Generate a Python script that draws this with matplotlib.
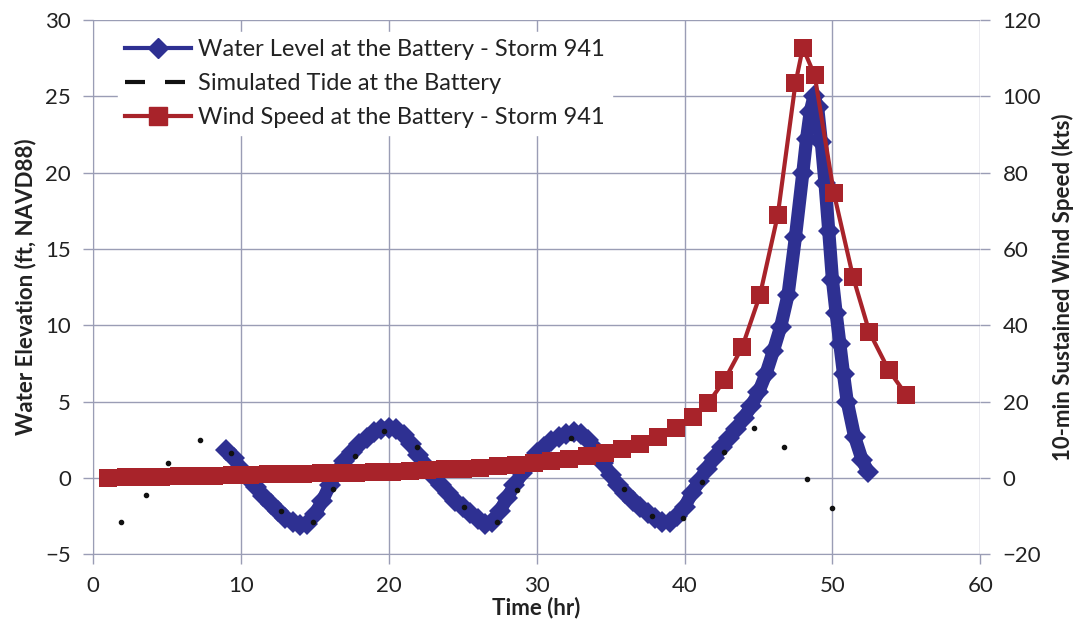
import matplotlib
matplotlib.use('Agg')
import matplotlib.pyplot as plt
from matplotlib.lines import Line2D


# DATA
# ================================================================================

# Water level at the Battery (ft, NAVD88)
water_time = [9.0, 9.5, 10.0, 10.5, 11.0, 11.5, 12.0, 12.5, 13.0, 13.5, 14.0, 14.5, 15.0, 15.5,
              16.0, 16.5, 17.0, 17.5, 18.0, 18.5, 19.0, 19.5, 20.0, 20.5, 21.0, 21.5, 22.0, 22.5,
              23.0, 23.5, 24.0, 24.5, 25.0, 25.5, 26.0, 26.5, 27.0, 27.5, 28.0, 28.5, 29.0, 29.5,
              30.0, 30.5, 31.0, 31.5, 32.0, 32.5, 33.0, 33.5, 34.0, 34.5, 35.0, 35.5, 36.0, 36.5,
              37.0, 37.5, 38.0, 38.5, 39.0, 39.5, 40.0, 40.5, 41.0, 41.5, 42.0, 42.5, 43.0, 43.5,
              44.0, 44.5, 45.0, 45.5, 46.0, 46.5, 47.0, 47.5, 48.0, 48.25, 48.5, 48.75, 49.0, 49.25,
              49.5, 49.75, 50.0, 50.25, 50.5, 50.75, 51.0, 51.5, 52.0, 52.4]
water_level = [1.8, 1.3, 0.6, 0.0, -0.6, -1.2, -1.7, -2.2, -2.6, -2.9, -3.1, -3.0, -2.4, -1.5,
               -0.5, 0.4, 1.1, 1.7, 2.2, 2.6, 3.0, 3.2, 3.3, 3.2, 2.8, 2.2, 1.5, 0.8,
               0.1, -0.5, -1.0, -1.5, -1.9, -2.3, -2.7, -3.0, -2.9, -2.2, -1.3, -0.5, 0.3, 1.0,
               1.6, 2.0, 2.4, 2.7, 2.9, 3.0, 2.9, 2.5, 1.8, 1.0, 0.2, -0.5, -1.0, -1.5,
               -1.9, -2.3, -2.6, -2.9, -2.9, -2.5, -1.9, -1.0, -0.2, 0.6, 1.3, 2.0, 2.6, 3.2,
               3.9, 4.7, 5.6, 6.8, 8.3, 9.9, 12.0, 15.8, 20.0, 22.2, 24.0, 25.0, 24.3, 22.0,
               19.3, 16.2, 13.0, 10.8, 8.8, 6.8, 5.0, 2.7, 1.2, 0.4]

# Simulated tide at the Battery (ft, NAVD88)
tide_time = [1.9, 3.6, 5.1, 7.2, 9.3, 12.7, 14.9, 16.2, 17.7, 19.7, 21.9, 25.1, 27.3, 28.7,
             32.3, 35.9, 37.8, 39.9, 41.2, 42.7, 44.7, 46.7, 48.3, 50.0]
tide_level = [-2.9, -1.1, 1.0, 2.5, 1.6, -2.2, -2.9, -0.7, 1.4, 3.1, 2.0, -1.9, -2.9, -0.8,
              2.6, -0.7, -2.5, -2.6, -0.3, 1.7, 3.3, 2.0, -0.1, -2.0]

# Wind speed at the Battery (kts)
wind_time = [1.0, 2.2, 3.4, 4.6, 5.8, 7.0, 8.2, 9.4, 10.6, 11.8, 13.0, 14.2, 15.4, 16.6,
             17.8, 19.0, 20.2, 21.4, 22.6, 23.8, 25.0, 26.2, 27.4, 28.6, 29.8, 31.0, 32.2, 33.4,
             34.6, 35.8, 37.0, 38.2, 39.4, 40.6, 41.6, 42.7, 43.9, 45.1, 46.3, 47.5, 48.0, 48.8,
             50.1, 51.4, 52.5, 53.8, 55.0]
wind_speed = [0.0, 0.1, 0.2, 0.3, 0.4, 0.5, 0.6, 0.7, 0.8, 0.9, 1.0, 1.1, 1.2, 1.3,
              1.4, 1.5, 1.6, 1.8, 2.0, 2.2, 2.4, 2.7, 3.0, 3.4, 3.8, 4.3, 4.9, 5.6,
              6.4, 7.5, 9.0, 10.8, 13.0, 16.0, 19.6, 25.6, 34.3, 47.9, 68.8, 103.4, 112.8, 105.5,
              74.6, 52.6, 38.2, 28.3, 21.7]

x_ticks = [0, 10, 20, 30, 40, 50, 60]
left_ticks = [-5, 0, 5, 10, 15, 20, 25, 30]
right_ticks = [-20, 0, 20, 40, 60, 80, 100, 120]


# STYLE
# ================================================================================

class Colors:
    blue = '#2e3092'
    red = '#a8232a'
    black = '#111111'
    grid = '#9a9db5'
    text = '#222222'


plt.rcParams['font.family'] = ['Lato', 'DejaVu Sans']
plt.rcParams['font.size'] = 16

fig, ax = plt.subplots(figsize=(10.82, 6.29), dpi=100)
fig.subplots_adjust(left=0.086, right=0.906, top=0.968, bottom=0.119)
ax2 = ax.twinx()

# Water level and tide on the left axis
ax.plot(water_time, water_level, color=Colors.blue, linewidth=9.5, marker='D',
        markersize=11, markeredgewidth=0, solid_joinstyle='round',
        solid_capstyle='butt', zorder=3)
ax.plot(tide_time, tide_level, linestyle='none', marker='o', color=Colors.black,
        markersize=3, zorder=4)

# Wind speed on the right axis
ax2.plot(wind_time, wind_speed, color=Colors.red, linewidth=3, marker='s',
         markersize=12.5, markeredgewidth=0, zorder=3)

ax.set_xlim(0, 60)
ax.set_ylim(-5, 30)
ax2.set_ylim(-20, 120)
ax.set_xticks(x_ticks)
ax.set_yticks(left_ticks)
ax2.set_yticks(right_ticks)

ax.grid(True, color=Colors.grid, linewidth=1)
ax.set_axisbelow(True)

for a in (ax, ax2):
    for side in ('top', 'right'):
        a.spines[side].set_visible(False)
    a.spines['left'].set_color(Colors.grid)
    a.spines['bottom'].set_color(Colors.grid)
    a.tick_params(colors=Colors.grid, labelcolor=Colors.text, length=7, width=1,
                  labelsize=16, pad=9)
ax2.spines['left'].set_visible(False)
ax2.spines['bottom'].set_visible(False)

ax.set_xlabel('Time (hr)', fontweight='bold', fontsize=16, color=Colors.text, labelpad=0)
ax.set_ylabel('Water Elevation (ft, NAVD88)', fontweight='bold', fontsize=16,
              color=Colors.text, labelpad=6)
ax2.set_ylabel('10-min Sustained Wind Speed (kts)', fontweight='bold', fontsize=16,
               color=Colors.text, labelpad=8)

# Legend (proxy handles so the legend lines stay thin)
handles = [
    Line2D([], [], color=Colors.blue, linewidth=3, marker='D', markersize=10),
    Line2D([], [], color=Colors.black, linewidth=3, linestyle=(0, (4.8, 4.8))),
    Line2D([], [], color=Colors.red, linewidth=3, marker='s', markersize=13),
]
labels = ['Water Level at the Battery - Storm 941',
          'Simulated Tide at the Battery',
          'Wind Speed at the Battery - Storm 941']
leg = ax2.legend(handles, labels, loc='upper left', bbox_to_anchor=(0.015, 1.0),
                 frameon=True, fancybox=False, edgecolor='white', facecolor='white',
                 framealpha=1, fontsize=17, handlelength=2.8, handletextpad=0.3,
                 labelspacing=0.55, borderpad=0.3)
for t in leg.get_texts():
    t.set_color(Colors.text)

fig.savefig('out.png', dpi=100, facecolor='white')
